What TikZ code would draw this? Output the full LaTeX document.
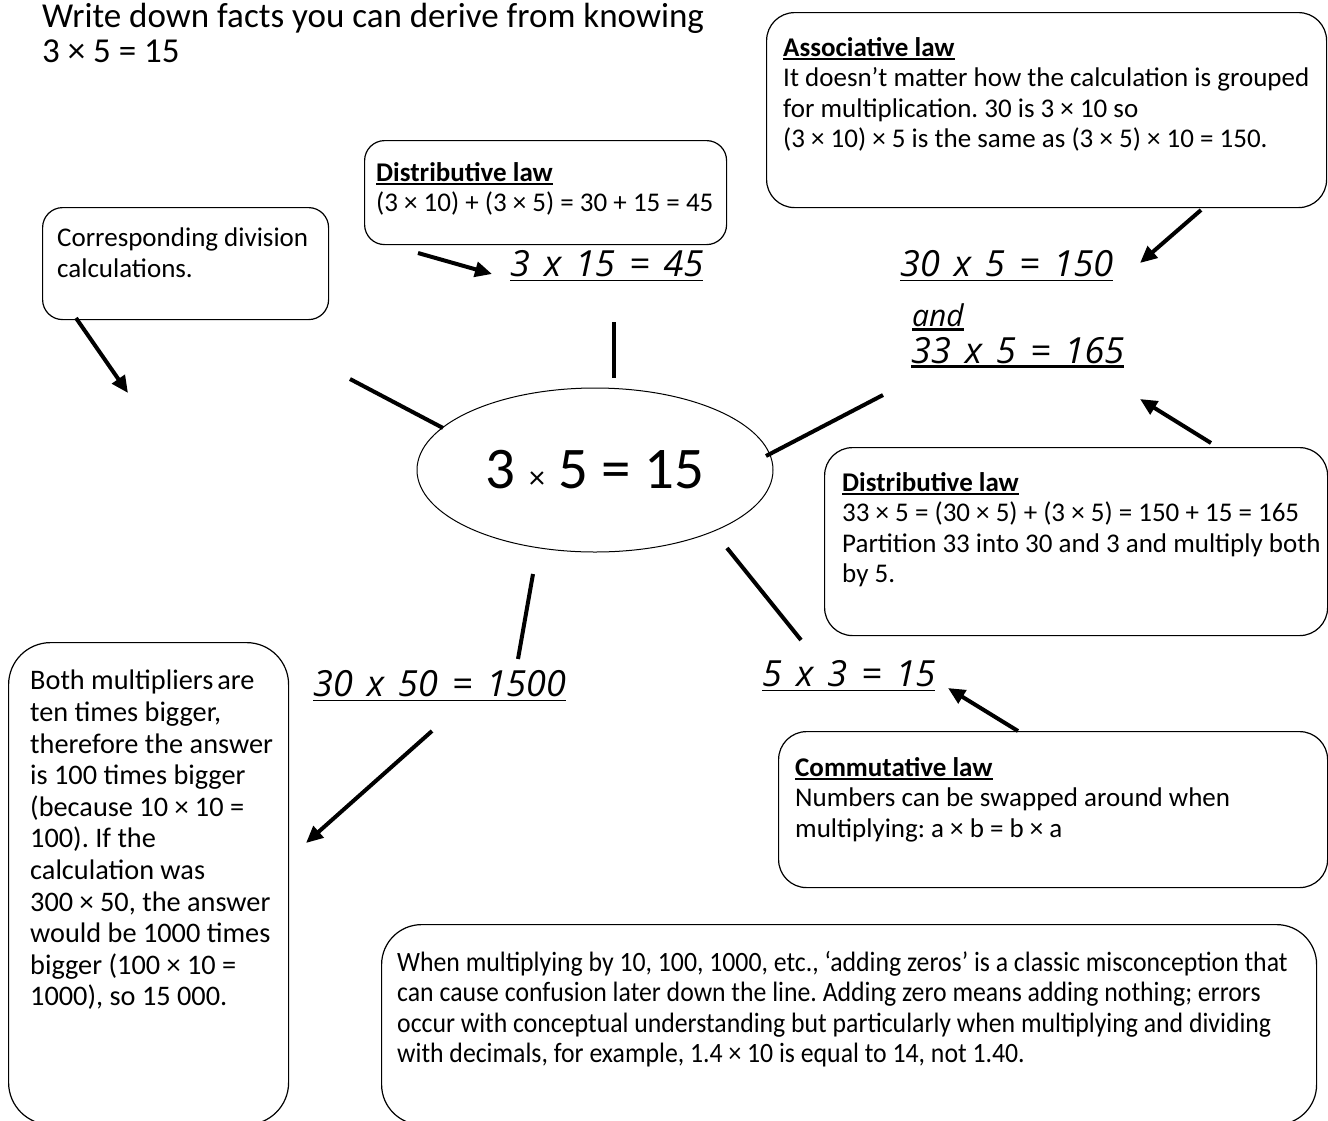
\documentclass[tikz,border=0pt]{standalone}
\usepackage{fontspec}
\setmainfont{Carlito}
\newfontfamily\handfont{Open Sans}[WordSpace=1.5]
\newfontfamily\squeezefont{Carlito}[FakeStretch=0.92]
\usetikzlibrary{arrows.meta,shapes.geometric}
\frenchspacing

% underlined bits
\newcommand{\eqbar}[2][1.5pt]{\setbox0\hbox{#2}\rlap{\rule[-5pt]{\wd0}{#1}}\box0}
\newcommand{\lawhead}[1]{\setbox0\hbox{\bfseries #1}\rlap{\rule[-4pt]{\wd0}{2pt}}\box0}

\begin{document}
\begin{tikzpicture}[
    x=1pt, y=-1pt,
    every node/.style={font=\fontsize{27}{30.5}\selectfont},
    notebox/.style={
        rectangle,
        draw,
        line width=1.2pt,
        rounded corners=#1,
        anchor=north west,
        inner sep=0pt
    },
    notebox/.default=20pt,
    notetext/.style={anchor=north west, align=left, inner sep=0pt},
    hand/.style={font=\handfont\itshape\fontsize{36}{40}\selectfont, anchor=base west, inner sep=0pt},
    spoke/.style={line width=4pt},
    arrow/.style={-{Triangle[length=17pt,width=15pt]}, line width=4pt}
]
\useasboundingbox (0,0) rectangle (1328,1120);

\node[notetext, font=\fontsize{35}{35}\selectfont] (task) at (42,3)
{Write down facts you can derive from knowing\\3 × 5 = 15};

% centre
\node[ellipse, draw, line width=1pt, minimum width=356pt, minimum height=164pt, inner sep=0pt] (hub) at (595,470)
{\fontsize{59}{60}\selectfont 3 {\fontsize{32}{32}\selectfont ×} 5 = 15};

% boxes
\node[notebox, minimum width=362pt, minimum height=104pt] (dist1) at (364,140) {};
\node[notetext] (dist1txt) at (376,162)
{\lawhead{Distributive law}\\(3 × 10) + (3 × 5) = 30 + 15 = 45};

\node[notebox=28pt, minimum width=560pt, minimum height=195pt] (assoc) at (766,12) {};
\node[notetext] (assoctxt) at (783,37)
{\lawhead{Associative law}\\It doesn’t matter how the calculation is grouped\\for multiplication. 30 is 3 × 10 so\\(3 × 10) × 5 is the same as (3 × 5) × 10 = 150.};

\node[notebox, minimum width=286pt, minimum height=112pt] (divi) at (42,207) {};
\node[notetext] (divitxt) at (57,228)
{Corresponding division\\calculations.};

\node[notebox=28pt, minimum width=503pt, minimum height=188pt] (dist2) at (824,447) {};
\node[notetext] (dist2txt) at (842,472)
{\lawhead{Distributive law}\\33 × 5 = (30 × 5) + (3 × 5) = 150 + 15 = 165\\Partition 33 into 30 and 3 and multiply both\\by 5.};

\node[notebox=28pt, minimum width=549pt, minimum height=156pt] (comm) at (778,731) {};
\node[notetext] (commtxt) at (795,757)
{\lawhead{Commutative law}\\Numbers can be swapped around when\\multiplying: a × b = b × a};

\node[notebox=42pt, minimum width=280pt, minimum height=482pt] (multi) at (8,642) {};
\node[notetext, font=\fontsize{28.3}{31.6}\selectfont] (multitxt) at (30,670)
{Both multipliers\hspace{4pt}are\\ten times bigger,\\therefore the answer\\is 100 times bigger\\(because 10 × 10 =\\100). If the\\calculation was\\300 × 50, the answer\\would be 1000 times\\bigger (100 × 10 =\\1000), so 15 000.};

\node[notebox=40pt, minimum width=935pt, minimum height=200pt] (zeros) at (381,924) {};
\node[notetext, font=\squeezefont\fontsize{28}{30.5}\selectfont] (zerostxt) at (397,951)
{When multiplying by 10, 100, 1000, etc., ‘adding zeros’ is a classic misconception that\\can cause confusion later down the line. Adding zero means adding nothing; errors\\occur with conceptual understanding but particularly when multiplying and dividing\\with decimals, for example, 1.4 × 10 is equal to 14, not 1.40.};

% derived facts
\node[hand] (eq1) at (510,276) {\eqbar{3 x 15 = 45}};
\node[hand] (eq2) at (900,276) {\eqbar{30 x 5 = 150}};
\node[hand, font=\handfont\itshape\fontsize{30}{34}\selectfont] (and) at (912,326) {\eqbar[3pt]{and}};
\node[hand] (eq3) at (911,363) {\eqbar[3pt]{33 x 5 = 165}};
\node[hand] (eq4) at (313,696) {\eqbar{30 x 50 = 1500}};
\node[hand] (eq5) at (762,686) {\eqbar{5 x 3 = 15}};

% spoke ends
\coordinate (top1) at (614,322);  \coordinate (top2) at (614,378);
\coordinate (ul1) at (350,379);   \coordinate (ul2) at (443,428);
\coordinate (ur1) at (883,395);   \coordinate (ur2) at (766,456);
\coordinate (ll1) at (533,574);   \coordinate (ll2) at (518,659);
\coordinate (lr1) at (727,548);   \coordinate (lr2) at (801,640);

\draw[spoke] (top1) -- (top2);
\draw[spoke] (ul1) -- (ul2);
\draw[spoke] (ur1) -- (ur2);
\draw[spoke] (ll1) -- (ll2);
\draw[spoke] (lr1) -- (lr2);

% arrow ends
\coordinate (dist1out) at (418,253);  \coordinate (eq1in) at (492,274);
\coordinate (assocout) at (1201,210); \coordinate (eq2in) at (1140,263);
\coordinate (diviout) at (76,318);    \coordinate (diviend) at (128,393);
\coordinate (dist2out) at (1211,443); \coordinate (eq3in) at (1140,399);
\coordinate (commout) at (1018,731);  \coordinate (eq5in) at (948,688);
\coordinate (eq4out) at (432,731);    \coordinate (multiin) at (306,843);

\draw[arrow] (dist1out) -- (eq1in);
\draw[arrow] (assocout) -- (eq2in);
\draw[arrow] (diviout) -- (diviend);
\draw[arrow] (dist2out) -- (eq3in);
\draw[arrow] (commout) -- (eq5in);
\draw[arrow] (eq4out) -- (multiin);

\end{tikzpicture}
\end{document}
